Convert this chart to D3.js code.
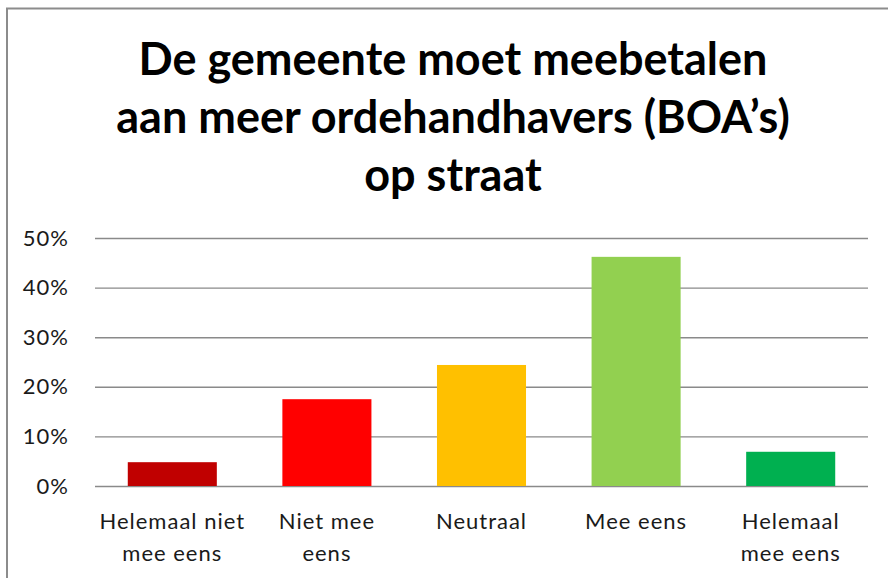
<!DOCTYPE html>
<html>
<head>
<meta charset="utf-8">
<script src="https://cdn.jsdelivr.net/npm/d3@7.9.0/dist/d3.min.js"></script>
<style>
  html, body { margin: 0; padding: 0; background: #fff; }
  svg { display: block; font-family: Lato, "Open Sans", sans-serif; }
</style>
</head>
<body>
<div id="chart"></div>
<script>
// ---------------------- Data ----------------------
const titleLines = ['De gemeente moet meebetalen', 'aan meer ordehandhavers (BOA\u2019s)', 'op straat'];
const categories = ['Helemaal niet mee eens', 'Niet mee eens', 'Neutraal', 'Mee eens', 'Helemaal mee eens'];
const categoryLines = [['Helemaal niet', 'mee eens'], ['Niet mee', 'eens'], ['Neutraal'], ['Mee eens'], ['Helemaal', 'mee eens']];
const values = [0.048, 0.175, 0.244, 0.462, 0.069];
const barColors = ['#C00000', '#FF0000', '#FFC000', '#92D050', '#00B050'];
const yTicks = [0, 0.1, 0.2, 0.3, 0.4, 0.5];

// ---------------------- Chart ----------------------
const width = 888;
const height = 578;
const area = { left: 95, right: 868, top: 238, bottom: 486 };

const svg = d3.select('#chart')
  .append('svg')
  .attr('width', width)
  .attr('height', height);

// chart frame (right and bottom edges fall outside the picture)
svg.append('rect')
  .attr('x', 7).attr('y', 8.5)
  .attr('width', 900).attr('height', 600)
  .attr('fill', 'none')
  .attr('stroke', '#8c8c8c')
  .attr('stroke-width', 2);

// title
svg.append('g')
  .selectAll('text')
  .data(titleLines)
  .join('text')
  .attr('x', 453)
  .attr('y', (d, i) => 75 + i * 58)
  .attr('text-anchor', 'middle')
  .attr('font-size', 45)
  .attr('font-weight', 700)
  .attr('fill', '#000')
  .text(d => d);

const x = d3.scaleBand()
  .domain(categories)
  .range([area.left, area.right])
  .paddingInner(0.424)
  .paddingOuter(0.212);

const y = d3.scaleLinear()
  .domain([0, 0.5])
  .range([area.bottom, area.top]);

// gridlines + y labels
const yAxis = svg.append('g')
  .attr('transform', `translate(${area.left},0)`)
  .call(d3.axisLeft(y)
    .tickValues(yTicks)
    .tickSize(-(area.right - area.left))
    .tickPadding(26)
    .tickFormat(d3.format('.0%')));

yAxis.select('.domain').remove();
yAxis.selectAll('.tick line')
  .attr('stroke', '#8a8a8a')
  .attr('stroke-width', 1.4);
yAxis.selectAll('.tick text')
  .attr('font-size', 22)
  .attr('letter-spacing', 1)
  .attr('font-family', 'Lato, sans-serif')
  .attr('fill', '#1a1a1a');

// bars
svg.append('g')
  .selectAll('rect')
  .data(values)
  .join('rect')
  .attr('x', (d, i) => x(categories[i]))
  .attr('y', d => y(d))
  .attr('width', x.bandwidth())
  .attr('height', d => y(0) - y(d))
  .attr('fill', (d, i) => barColors[i]);

// x labels
const xLabels = svg.append('g')
  .selectAll('text')
  .data(categories)
  .join('text')
  .attr('x', d => x(d) + x.bandwidth() / 2)
  .attr('y', 529)
  .attr('text-anchor', 'middle')
  .attr('font-size', 22)
  .attr('letter-spacing', 1)
  .attr('fill', '#1a1a1a');

xLabels.selectAll('tspan')
  .data((d, i) => categoryLines[i])
  .join('tspan')
  .attr('x', function () { return this.parentNode.getAttribute('x'); })
  .attr('dy', (d, i) => i === 0 ? 0 : 32)
  .text(d => d);
</script>
</body>
</html>
